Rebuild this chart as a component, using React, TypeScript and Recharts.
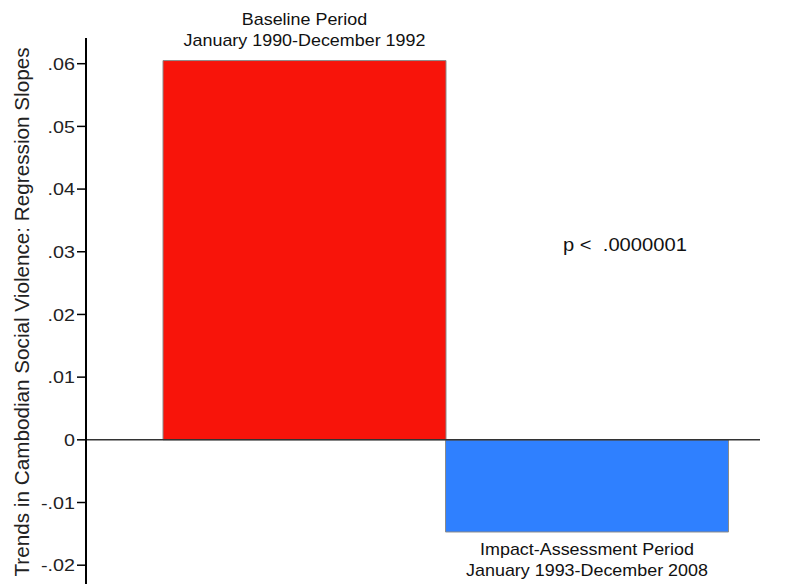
import React from "react";
import { BarChart, Bar, XAxis, YAxis, ReferenceLine, LabelList, Cell } from "recharts";

const periods = ["Baseline Period", "Impact-Assessment Period"];
const ranges = ["January 1990-December 1992", "January 1993-December 2008"];
const slopes = [0.0605, -0.0147];
const barColors = ["#f8140a", "#2f80ff"];
const yTicks = [-0.02, -0.01, 0, 0.01, 0.02, 0.03, 0.04, 0.05, 0.06];

const data = periods.map((p, i) => ({ period: p, range: ranges[i], slope: slopes[i] }));

const font = "'Liberation Sans', Arial, Helvetica, sans-serif";
// the source image is a bit wider than tall, so text is stretched sideways
const SX = 1.12;

const fmt = (v: number) => {
  if (v === 0) return "0";
  const s = Math.abs(v).toFixed(2).replace(/^0/, "");
  return v < 0 ? "-" + s : s;
};

const Tick = (props: any) => {
  const { x, y, payload } = props;
  return (
    <g transform={`translate(${x},${y})`}>
      <text
        transform={`scale(${SX + 0.04},1)`}
        textAnchor="end"
        dy="0.36em"
        fontFamily={font}
        fontSize={17}
        fill="#222"
      >
        {fmt(payload.value)}
      </text>
    </g>
  );
};

const BarText = (props: any) => {
  const { x, y, width, height, index } = props;
  const top = Math.min(y, y + height);
  const bottom = Math.max(y, y + height);
  const cx = x + width / 2;
  const neg = slopes[index] < 0;
  const y1 = neg ? bottom + 23 : top - 36;
  return (
    <g transform={`translate(${cx},${y1}) scale(${SX},1)`}>
      <text textAnchor="middle" fontFamily={font} fontSize={16} fill="#111">
        <tspan x={0} y={0}>{periods[index]}</tspan>
        <tspan x={0} y={21}>{ranges[index]}</tspan>
      </text>
    </g>
  );
};

const YLabel = (props: any) => {
  const { viewBox } = props;
  const cy = viewBox.y + viewBox.height / 2 + 1;
  return (
    <text
      x={29}
      y={cy}
      transform={`rotate(-90 29 ${cy})`}
      textAnchor="middle"
      fontFamily={font}
      fontSize={20}
      textLength={529}
      lengthAdjust="spacingAndGlyphs"
      fill="#222"
    >
      Trends in Cambodian Social Violence: Regression Slopes
    </text>
  );
};

export default function App() {
  return (
    <div style={{ position: "absolute", left: 0, top: 0, width: 793, height: 584, background: "#fff" }}>
      <BarChart
        width={793}
        height={584}
        data={data}
        barCategoryGap={0}
        margin={{ top: 38, right: 33, bottom: 0, left: 0 }}
      >
        <XAxis dataKey="period" hide padding={{ left: 77, right: 32 }} />
        <YAxis
          width={86}
          domain={[-0.023, 0.0641]}
          ticks={yTicks}
          allowDataOverflow
          axisLine={{ stroke: "#000", strokeWidth: 2 }}
          tickLine={{ stroke: "#000", strokeWidth: 1.5 }}
          tickSize={9}
          tick={<Tick />}
          label={<YLabel />}
        />
        <Bar dataKey="slope" stroke="#8a8a8a" strokeWidth={1} isAnimationActive={false}>
          {data.map((d, i) => (
            <Cell key={d.period} fill={barColors[i]} />
          ))}
          <LabelList dataKey="slope" content={<BarText />} />
        </Bar>
        <ReferenceLine y={0} stroke="#333" strokeWidth={1.5} />
      </BarChart>
      <div
        style={{
          position: "absolute",
          left: 563,
          top: 235,
          fontFamily: font,
          fontSize: 18,
          color: "#111",
          whiteSpace: "pre",
          transform: `scaleX(${SX})`,
          transformOrigin: "left top",
        }}
      >
        {"p <  .0000001"}
      </div>
    </div>
  );
}
